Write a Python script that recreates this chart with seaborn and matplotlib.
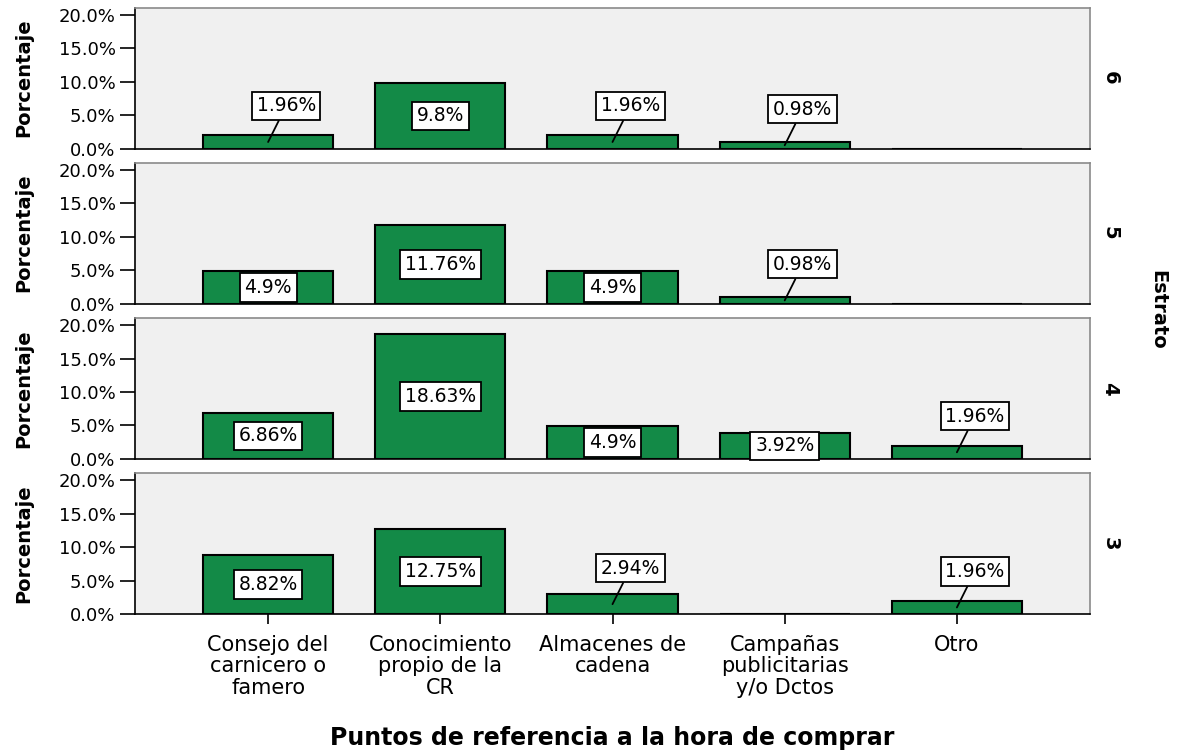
import matplotlib
matplotlib.use("Agg")
import matplotlib.pyplot as plt
import seaborn as sns
import pandas as pd

categories = ["Consejo del\ncarnicero o\nfamero", "Conocimiento\npropio de la\nCR",
              "Almacenes de\ncadena", "Campañas\npublicitarias\ny/o Dctos", "Otro"]
estratos = ["6", "5", "4", "3"]
vals_6 = [1.96, 9.8, 1.96, 0.98, 0.0]
vals_5 = [4.9, 11.76, 4.9, 0.98, 0.0]
vals_4 = [6.86, 18.63, 4.9, 3.92, 1.96]
vals_3 = [8.82, 12.75, 2.94, 0.0, 1.96]
series = [vals_6, vals_5, vals_4, vals_3]
yticks = [0, 5, 10, 15, 20]

sns.set_theme(style="white")
plt.rcParams['font.family'] = ['DejaVu Sans']
plt.rcParams.update({"text.color": "black", "axes.labelcolor": "black",
                     "xtick.color": "black", "ytick.color": "black"})

fig, axes = plt.subplots(4, 1, figsize=(11.78, 7.52), dpi=100, sharex=True)
fig.subplots_adjust(left=135/1178, right=1090/1178, top=1-7.5/752, bottom=1-614/752, hspace=0.1)

green = "#138A47"
for ax, est, vals in zip(axes, estratos, series):
    df = pd.DataFrame({"cat": categories, "pct": vals})
    sns.barplot(data=df, x="cat", y="pct", order=categories, color=green,
                saturation=1, width=0.756, edgecolor="black", linewidth=1.5, ax=ax)
    ax.set_facecolor("#F0F0F0")
    ax.set_ylim(0, 21.1)
    ax.set_xlim(-0.773, 4.773)
    ax.set_yticks(yticks)
    ax.set_yticklabels([f"{t:.1f}%" for t in yticks], fontsize=13)
    for s in ["top", "right"]:
        ax.spines[s].set_color("#8a8a8a")
        ax.spines[s].set_linewidth(1.2)
    for s in ["left", "bottom"]:
        ax.spines[s].set_color("black")
        ax.spines[s].set_linewidth(1.2)
    ax.tick_params(axis="y", direction="out", length=11, width=1.2, color="black", left=True, pad=3)
    ax.set_ylabel("Porcentaje", fontsize=14, fontweight="bold")
    ax.yaxis.set_label_coords(-0.107, 0.5)
    ax.set_xlabel("")
    ax.text(1.021, 0.5, est, transform=ax.transAxes, rotation=-90, ha="center", va="center",
            fontsize=14, fontweight="bold")
    for i, v in enumerate(vals):
        if v <= 0:
            continue
        lab = f"{v:g}%"
        bbox = dict(boxstyle="square,pad=0.25", fc="white", ec="black", lw=1.3)
        if v >= 3.5:
            ax.text(i, v / 2, lab, ha="center", va="center", fontsize=13.5, bbox=bbox, zorder=5)
        else:
            ax.annotate(lab, xy=(i, v / 2), xytext=(13, 26), textcoords="offset points",
                        ha="center", va="center", fontsize=13.5, bbox=bbox, zorder=5,
                        arrowprops=dict(arrowstyle="-", color="black", lw=1.3,
                                        shrinkA=0, shrinkB=0))

for ax in axes[:-1]:
    ax.tick_params(axis="x", bottom=False, labelbottom=False)
axes[-1].tick_params(axis="x", direction="out", length=7, width=1.2, color="black", bottom=True, pad=8)
axes[-1].set_xticks(range(len(categories)))
axes[-1].set_xticklabels(categories, fontsize=15, linespacing=1.1)

fig.text(612.5/1178, 1-738/752, "Puntos de referencia a la hora de comprar", ha="center", va="center",
         fontsize=17, fontweight="bold")
fig.text(1158/1178, 1-310/752, "Estrato", rotation=-90, ha="center", va="center",
         fontsize=14, fontweight="bold")

fig.savefig("out.png", dpi=100, facecolor="white")
